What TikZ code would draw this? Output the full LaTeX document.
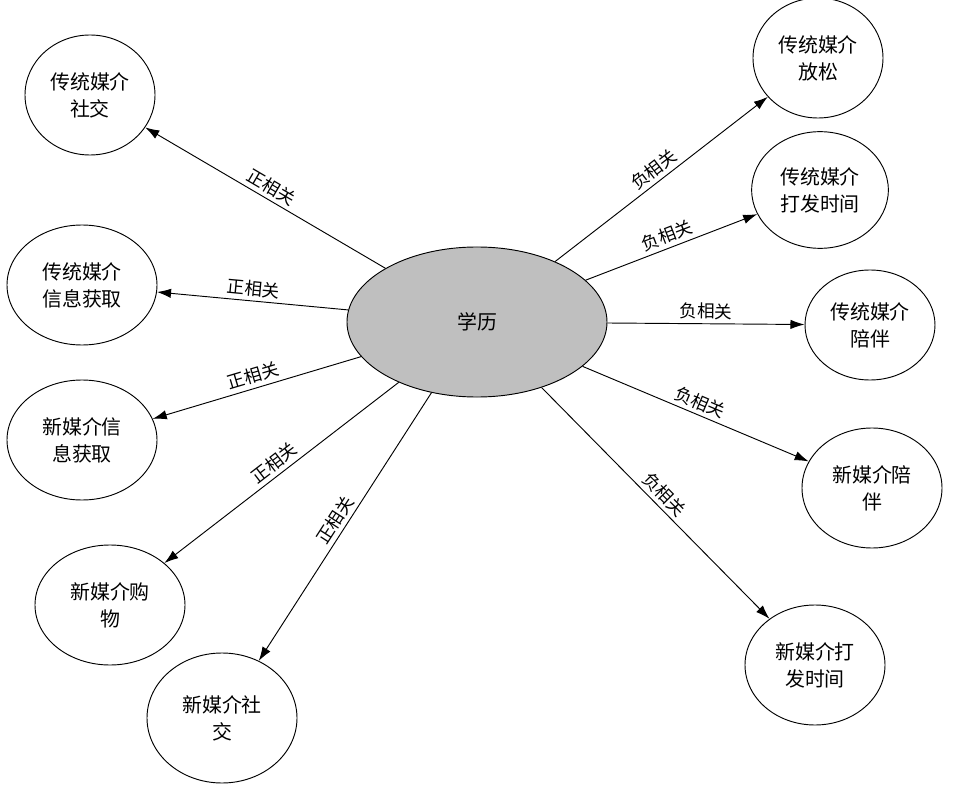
\documentclass[tikz,border=0pt]{standalone}
\usepackage{fontspec}
\newfontfamily\cjk{Noto Sans CJK SC}
\usetikzlibrary{shapes.geometric,arrows.meta}
\tikzset{
  topic/.style={ellipse,draw,thick,align=center,inner sep=0pt,font=\cjk\fontsize{17}{23}\selectfont},
  corr/.style={->,>={Latex[length=12pt,width=8pt]},thick},
  rel/.style={sloped,above,font=\cjk\fontsize{15}{18}\selectfont}
}
\begin{document}
\begin{tikzpicture}[x=0.03cm,y=-0.03cm]
\useasboundingbox (0,0) rectangle (967,788);
%centre
\node[topic,fill=lightgray,minimum width=7.8cm,minimum height=4.5cm] (edu) at (477,322) {学历};
%left side
\node[topic,minimum width=3.9cm,minimum height=3.6cm] (tsoc) at (90,95) {传统媒介\\社交};
\node[topic,minimum width=4.5cm,minimum height=3.6cm] (tinfo) at (82,285) {传统媒介\\信息获取};
\node[topic,minimum width=4.5cm,minimum height=3.6cm] (ninfo) at (82,440) {新媒介信\\息获取};
\node[topic,minimum width=4.5cm,minimum height=3.6cm] (nshop) at (110,605) {新媒介购\\物};
\node[topic,minimum width=4.5cm,minimum height=3.9cm] (nsoc) at (222,718) {新媒介社\\交};
%right side
\node[topic,minimum width=3.9cm,minimum height=3.6cm] (trelax) at (818,58) {传统媒介\\放松};
\node[topic,minimum width=4.1cm,minimum height=3.5cm] (tpass) at (820,190) {传统媒介\\打发时间};
\node[topic,minimum width=3.9cm,minimum height=3.3cm] (tcomp) at (870,325) {传统媒介\\陪伴};
\node[topic,minimum width=4.2cm,minimum height=3.6cm] (ncomp) at (872,488) {新媒介陪\\伴};
\node[topic,minimum width=4.2cm,minimum height=3.6cm] (npass) at (815,665) {新媒介打\\发时间};
%positive links
\draw[corr] (edu) -- node[rel] {正相关} (tsoc);
\draw[corr] (edu) -- node[rel] {正相关} (tinfo);
\draw[corr] (edu) -- node[rel] {正相关} (ninfo);
\draw[corr] (edu) -- node[rel] {正相关} (nshop);
\draw[corr] (edu) -- node[rel] {正相关} (nsoc);
%negative links
\draw[corr] (edu) -- node[rel] {负相关} (trelax);
\draw[corr] (edu) -- node[rel] {负相关} (tpass);
\draw[corr] (edu) -- node[rel] {负相关} (tcomp);
\draw[corr] (edu) -- node[rel] {负相关} (ncomp);
\draw[corr] (edu) -- node[rel] {负相关} (npass);
\end{tikzpicture}
\end{document}
